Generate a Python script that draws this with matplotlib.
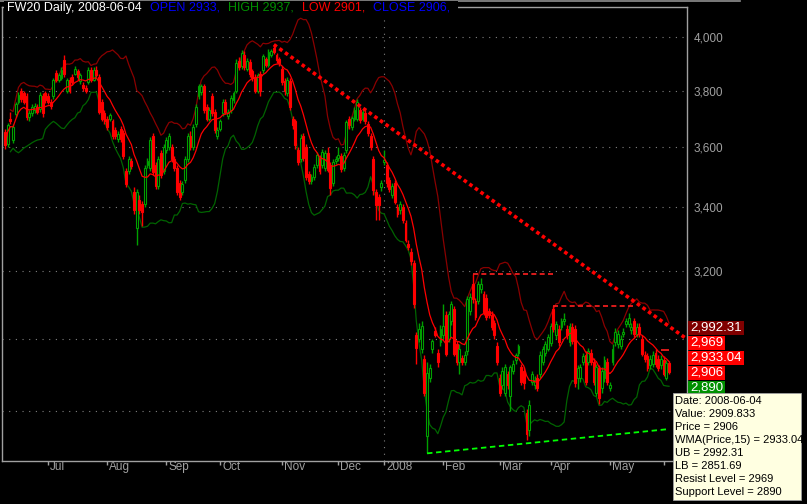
import numpy as np
import pandas as pd
import matplotlib
matplotlib.use('Agg')
import matplotlib.pyplot as plt
from matplotlib.patches import Rectangle
from matplotlib.lines import Line2D
from matplotlib.ticker import NullLocator
from matplotlib.transforms import ScaledTranslation

plt.rcParams['font.family'] = ['Liberation Sans', 'DejaVu Sans']

# ---- data ----
symbol = 'FW20'
last_date = '2008-06-04'
holidays = ['2007-06-07', '2007-08-15', '2007-11-01', '2007-12-24', '2007-12-25',
            '2007-12-26', '2007-12-31', '2008-01-01', '2008-03-21', '2008-03-24',
            '2008-05-01', '2008-05-22']

opens = [
    3652, 3610, 3700, 3625, 3715, 3760, 3800, 3790, 3780, 3705,
    3720, 3730, 3740, 3735, 3780, 3790, 3780, 3760, 3780, 3865,
    3840, 3845, 3912, 3800, 3838, 3850, 3862, 3870, 3835, 3820,
    3810, 3830, 3875, 3840, 3875, 3850, 3760, 3720, 3700, 3700,
    3690, 3660, 3630, 3665, 3650, 3520, 3520, 3555, 3450, 3335,
    3425, 3410, 3410, 3540, 3530, 3640, 3540, 3470, 3580, 3520,
    3590, 3600, 3600, 3560, 3530, 3480, 3450, 3490, 3560, 3640,
    3600, 3680, 3780, 3795, 3815, 3740, 3700, 3780, 3725, 3640,
    3665, 3720, 3760, 3710, 3730, 3765, 3800, 3910, 3890, 3930,
    3880, 3905, 3870, 3850, 3800, 3860, 3875, 3915, 3895, 3930,
    3958, 3930, 3915, 3880, 3835, 3790, 3835, 3700, 3690, 3590,
    3560, 3640, 3600, 3510, 3485, 3500, 3540, 3565, 3540, 3530,
    3580, 3540, 3480, 3555, 3565, 3570, 3530, 3590, 3700, 3670,
    3700, 3700, 3730, 3700, 3720, 3680, 3640, 3560, 3450, 3435,
    3465, 3550, 3540, 3490, 3440, 3480, 3400, 3390, 3400, 3350,
    3285, 3260, 3225, 3010, 3000, 2972, 2944, 2735, 2890, 2972,
    3022, 2960, 2990, 3010, 3070, 3000, 3050, 3087, 2986, 2935,
    2945, 2935, 2965, 3080, 3160, 3110, 3110, 3145, 3130, 3120,
    3080, 3070, 3045, 2980, 2890, 2870, 2850, 2900, 2840, 2910,
    2940, 2960, 2920, 2910, 2795, 2750, 2880, 2870, 2890, 2900,
    2935, 2960, 2972, 2988, 3087, 3012, 3029, 3035, 3050, 3029,
    2990, 3035, 3029, 2890, 2890, 2935, 2955, 2935, 2960, 2935,
    2850, 2917, 2862, 2890, 2935, 2862, 2935, 2990, 2986, 2980,
    3015, 3043, 3043, 3025, 3050, 3015, 3035, 3000, 2955, 2950,
    2925, 2930, 2960, 2944, 2925, 2940, 2890, 2933]

highs = [
    3665, 3685, 3725, 3680, 3760, 3795, 3810, 3800, 3790, 3730,
    3750, 3755, 3750, 3795, 3790, 3800, 3790, 3770, 3845, 3875,
    3865, 3885, 3930, 3845, 3850, 3860, 3890, 3880, 3865, 3830,
    3820, 3885, 3885, 3885, 3890, 3860, 3770, 3730, 3710, 3720,
    3700, 3670, 3655, 3675, 3660, 3530, 3570, 3565, 3465, 3460,
    3440, 3420, 3540, 3565, 3635, 3650, 3550, 3570, 3590, 3610,
    3635, 3650, 3610, 3570, 3540, 3490, 3485, 3570, 3650, 3655,
    3680, 3750, 3825, 3825, 3825, 3750, 3740, 3790, 3735, 3670,
    3700, 3770, 3770, 3735, 3785, 3800, 3915, 3925, 3950, 3945,
    3920, 3915, 3880, 3860, 3865, 3870, 3935, 3925, 3955, 3955,
    3970, 3940, 3925, 3890, 3845, 3850, 3845, 3710, 3700, 3600,
    3645, 3650, 3610, 3520, 3510, 3545, 3585, 3575, 3595, 3590,
    3600, 3550, 3560, 3570, 3600, 3580, 3585, 3695, 3710, 3710,
    3740, 3770, 3740, 3735, 3730, 3690, 3650, 3570, 3460, 3445,
    3490, 3590, 3550, 3500, 3480, 3490, 3410, 3420, 3410, 3360,
    3295, 3270, 3235, 3020, 3045, 3050, 2955, 2935, 2930, 3000,
    3035, 2970, 3040, 3100, 3080, 3080, 3110, 3095, 2995, 2985,
    2955, 2965, 3125, 3135, 3190, 3120, 3170, 3180, 3140, 3130,
    3090, 3080, 3055, 2990, 2900, 2920, 2930, 2910, 2925, 2940,
    2960, 2985, 2930, 2920, 2805, 2830, 2910, 2895, 2900, 2965,
    2980, 2995, 3015, 3045, 3095, 3050, 3040, 3060, 3075, 3040,
    3045, 3045, 3040, 2925, 2930, 2960, 2965, 2975, 2970, 2945,
    2930, 2925, 2920, 2950, 2945, 2880, 2985, 3030, 3025, 3010,
    3030, 3060, 3075, 3045, 3060, 3045, 3045, 3010, 2965, 2960,
    2955, 2965, 2970, 2955, 2955, 2950, 2940, 2937]

lows = [
    3595, 3600, 3680, 3615, 3705, 3750, 3760, 3750, 3695, 3690,
    3710, 3720, 3715, 3725, 3705, 3755, 3750, 3735, 3770, 3830,
    3830, 3840, 3850, 3790, 3790, 3820, 3855, 3840, 3825, 3800,
    3790, 3825, 3830, 3835, 3850, 3715, 3690, 3680, 3660, 3690,
    3630, 3630, 3620, 3620, 3560, 3465, 3510, 3525, 3380, 3280,
    3380, 3340, 3400, 3530, 3520, 3505, 3460, 3460, 3495, 3510,
    3580, 3590, 3550, 3520, 3440, 3425, 3440, 3480, 3550, 3590,
    3590, 3670, 3770, 3785, 3720, 3690, 3690, 3710, 3650, 3630,
    3655, 3710, 3715, 3700, 3720, 3755, 3790, 3875, 3880, 3875,
    3870, 3850, 3835, 3790, 3790, 3780, 3865, 3885, 3885, 3925,
    3935, 3900, 3890, 3820, 3785, 3780, 3730, 3665, 3595, 3540,
    3550, 3555, 3490, 3475, 3475, 3490, 3530, 3510, 3530, 3520,
    3515, 3440, 3470, 3545, 3555, 3515, 3520, 3580, 3665, 3660,
    3690, 3690, 3685, 3690, 3680, 3640, 3590, 3440, 3360, 3360,
    3455, 3540, 3465, 3450, 3430, 3410, 3370, 3380, 3350, 3290,
    3265, 3220, 3090, 2930, 2990, 2960, 2840, 2690, 2880, 2960,
    3005, 2920, 2980, 3000, 2950, 2990, 3040, 2950, 2925, 2900,
    2925, 2925, 2955, 3070, 3105, 3055, 3100, 3135, 3070, 3055,
    3060, 3025, 3000, 2925, 2840, 2860, 2840, 2860, 2800, 2900,
    2930, 2950, 2870, 2860, 2725, 2735, 2870, 2860, 2855, 2890,
    2925, 2950, 2965, 2980, 3020, 3000, 2980, 3025, 3040, 3000,
    2980, 2985, 2865, 2860, 2880, 2925, 2870, 2925, 2925, 2870,
    2840, 2820, 2850, 2880, 2870, 2855, 2925, 2980, 2975, 2970,
    3005, 3035, 3035, 3015, 3005, 3005, 3005, 2950, 2935, 2910,
    2915, 2920, 2920, 2910, 2915, 2895, 2885, 2901]

closes = [
    3607, 3677, 3690, 3670, 3750, 3785, 3770, 3760, 3705, 3720,
    3740, 3745, 3725, 3785, 3720, 3765, 3760, 3745, 3838, 3838,
    3856, 3875, 3860, 3838, 3800, 3830, 3878, 3850, 3856, 3810,
    3800, 3875, 3838, 3875, 3856, 3725, 3700, 3690, 3670, 3712,
    3640, 3640, 3645, 3630, 3570, 3475, 3560, 3535, 3390, 3450,
    3390, 3385, 3530, 3555, 3625, 3515, 3470, 3560, 3505, 3600,
    3625, 3640, 3560, 3530, 3450, 3435, 3475, 3560, 3640, 3600,
    3670, 3740, 3815, 3815, 3730, 3700, 3730, 3720, 3660, 3660,
    3690, 3760, 3725, 3725, 3775, 3790, 3900, 3885, 3940, 3885,
    3910, 3860, 3845, 3800, 3856, 3797, 3926, 3894, 3943, 3945,
    3943, 3912, 3900, 3830, 3797, 3840, 3740, 3677, 3607, 3550,
    3632, 3563, 3500, 3485, 3500, 3533, 3575, 3520, 3583, 3580,
    3523, 3463, 3550, 3560, 3575, 3526, 3573, 3687, 3677, 3701,
    3730, 3759, 3694, 3725, 3690, 3648, 3600, 3457, 3408, 3408,
    3480, 3557, 3480, 3460, 3470, 3418, 3380, 3410, 3360, 3297,
    3275, 3230, 3100, 2975, 3029, 3037, 2849, 2905, 2917, 2995,
    3012, 2935, 3029, 3037, 2958, 3072, 3101, 2958, 2935, 2972,
    2935, 2955, 3116, 3122, 3116, 3064, 3160, 3160, 3078, 3064,
    3070, 3035, 3010, 2935, 2849, 2910, 2920, 2870, 2920, 2930,
    2955, 2980, 2880, 2876, 2740, 2817, 2900, 2885, 2862, 2955,
    2972, 2986, 3005, 3037, 3029, 3043, 2990, 3050, 3058, 3010,
    3037, 2995, 2876, 2917, 2920, 2950, 2880, 2965, 2935, 2880,
    2920, 2836, 2910, 2940, 2880, 2870, 2972, 3020, 3015, 3000,
    3020, 3050, 3060, 3035, 3015, 3035, 3015, 2958, 2944, 2917,
    2944, 2955, 2930, 2917, 2944, 2900, 2933, 2906]

# read-outs shown in the tooltip and the price boxes
value_last = 2909.833
wma_last = 2933.04
ub_last = 2992.31
lb_last = 2851.69
resist_level = 2969
support_level = 2890
trend_end_value = 3036      # falling resistance line at the last bar
support_end_value = 2753    # rising support line at the last bar
resist_dates = ['2008-02-18', '2008-04-02']
resist_len = 30
yticks = [2800, 3000, 3200, 3400, 3600, 3800, 4000]
hidden_yticks = [2800, 3000]   # labels covered by the boxes / tooltip

# ---- prep ----
o = np.array(opens, float)
h = np.array(highs, float)
l = np.array(lows, float)
c = np.array(closes, float)
n = len(c)
x = np.arange(n)

bdays = pd.bdate_range('2007-05-01', last_date)
bdays = bdays[~bdays.isin(pd.to_datetime(holidays))]
dates = bdays[-n:]


def wma(v, period):
    out = np.empty(len(v))
    for i in range(len(v)):
        w = v[max(0, i - period + 1):i + 1]
        k = np.arange(1, len(w) + 1)
        out[i] = (w * k).sum() / k.sum()
    return out


wma15 = wma(c, 15)
s = pd.Series(c)
mid = s.rolling(15, min_periods=3).mean()
sd = s.rolling(15, min_periods=3).std(ddof=0)
ub = mid + 2 * sd
lb = mid - 2 * sd

# ---- figure ----
W, H = 807, 504
fig = plt.figure(figsize=(W / 100, H / 100), dpi=100, facecolor='black')
L, R, T, B = 2, 687, 7, 461
ax = fig.add_axes([L / W, 1 - B / H, (R - L) / W, (B - T) / H])
ax.set_facecolor('black')
ax.set_yscale('log')

green, red = '#00a000', '#ff0000'
up = c >= o
col = np.where(up, green, red)

ax.plot(x, ub, color='#8a0000', lw=0.9, zorder=2)
ax.plot(x, lb, color='#006400', lw=0.9, zorder=2)
ax.vlines(x, l, h, colors=col, lw=1, zorder=3)
ax.bar(x, np.abs(c - o), bottom=np.minimum(o, c), width=0.7,
       color=np.where(up, 'black', red), edgecolor=col, linewidth=0.8, zorder=4)
ax.plot(x, wma15, color='#ff0000', lw=0.9, zorder=5)

step = (669 - 5) / (n - 1)
xlim = (-(5 - L) / step, (n - 1) + (R - 669) / step)
ax.set_xlim(*xlim)
ax.set_ylim(2670.5, 4114.8)

# falling resistance line from the October top
i0 = int(np.argmax(h))
slope = (np.log(trend_end_value) - np.log(h[i0])) / (n - 1 - i0)
xt = np.array([i0, xlim[1]])
ax.plot(xt, np.exp(np.log(h[i0]) + slope * (xt - i0)), color='#ff0000', lw=2.6,
        linestyle=(0, (1, 0.9)), dash_capstyle='butt', zorder=6)

# rising support line from the January low
j0 = int(np.argmin(l))
ax.plot([j0, n - 1], [l[j0], support_end_value], color='#00ff00', lw=1.3,
        linestyle=(0, (3, 2)), zorder=6)

# horizontal resistance levels
for d in resist_dates:
    k = dates.get_loc(pd.Timestamp(d))
    ax.hlines(h[k], k, k + resist_len, colors='#ff2020', lw=1.2,
              linestyles=(0, (3, 2)), zorder=6)
ax.hlines(resist_level, n - 4, n - 1, colors='#ff2020', lw=1.2, zorder=6)

# axes styling
for sp in ax.spines.values():
    sp.set_color('#a0a0a0')
    sp.set_linewidth(1)

ax.set_yticks(yticks)
ax.set_yticklabels(['' if v in hidden_yticks else f'{v:,}' for v in yticks])
ax.yaxis.set_minor_locator(NullLocator())
ax.yaxis.tick_right()
ax.tick_params(axis='y', which='both', length=0, pad=5, labelcolor='#a0a0a0',
               labelsize=8.5)
ax.grid(axis='y', color='#808080', lw=0.8, linestyle=(0, (1, 5)))
ax.set_axisbelow(True)

months = [i for i in range(1, n) if dates[i].month != dates[i - 1].month]
mlabels = [str(dates[i].year) if dates[i].month == 1 else dates[i].strftime('%b')
           for i in months]
mlabels[-1] = ''   # June label sits under the tooltip
ax.set_xticks(months)
ax.set_xticklabels(mlabels, ha='left')
ax.tick_params(axis='x', length=3, width=1, color='#a0a0a0', labelcolor='#a0a0a0',
               labelsize=8.5, pad=-3, direction='out')
shift = ScaledTranslation(2 / 100, 0, fig.dpi_scale_trans)
for lab in ax.get_xticklabels():
    lab.set_transform(lab.get_transform() + shift)

for i in months:
    if dates[i].month == 1:
        ax.axvline(i, color='#808080', lw=0.8, linestyle=(0, (1, 5)), zorder=1)

# ---- header ----
fig.add_artist(Line2D([0, 740 / W], [1 - 0.6 / H] * 2, transform=fig.transFigure,
                      color='#909090', lw=1.2))
renderer = fig.canvas.get_renderer()
parts = [(f'{symbol} Daily, {last_date}', 'white'),
         (f'OPEN {o[-1]:.0f},', '#0000ff'),
         (f'HIGH {h[-1]:.0f},', '#009000'),
         (f'LOW {l[-1]:.0f},', '#ff0000'),
         (f'CLOSE {c[-1]:.0f},', '#0000ff')]
xpos = 7
for txt, colr in parts:
    t = fig.text(xpos / W, 1 - 8 / H, txt, color=colr, fontsize=9, va='center',
                 ha='left', zorder=10)
    bb = t.get_window_extent(renderer)
    xpos = bb.x1 + 8
fig.add_artist(Rectangle((4 / W, 1 - 15 / H), (xpos - 4) / W, 14 / H,
                         transform=fig.transFigure, fc='black', ec='none', zorder=5))

# ---- price boxes on the axis ----
vals = [ub_last, resist_level, wma_last, c[-1], support_level]
box_cols = ['#800000', '#ff0000', '#ff0000', '#ff0000', '#009000']
ys = [ax.transData.transform((0, v))[1] for v in vals]
for _ in range(200):
    for k in range(len(ys) - 1):
        d = ys[k] - ys[k + 1]
        if d < 15:
            m = (15 - d) / 2
            ys[k] += m
            ys[k + 1] -= m
ys = [yy + 3 for yy in ys]
for v, yy, bc in zip(vals, ys, box_cols):
    txt = f'{v:,.2f}' if v != int(v) else f'{int(v):,}'
    t = fig.text(690 / W, yy / H, txt, color='white', fontsize=9.5, va='center',
                 ha='left', zorder=12)
    bb = t.get_window_extent(renderer)
    fig.add_artist(Rectangle((688 / W, (yy - 7) / H), (bb.x1 + 2 - 688) / W, 14 / H,
                             transform=fig.transFigure, fc=bc, ec='none', zorder=11))

# ---- tooltip ----
fig.add_artist(Rectangle((673 / W, 1 - 500 / H), 128 / W, 107 / H,
                         transform=fig.transFigure, fc='#ffffe1', ec='#a0a0a0',
                         lw=0.6, zorder=13))
tip = [f'Date: {last_date}',
       f'Value: {value_last}',
       f'Price = {c[-1]:.0f}',
       f'WMA(Price,15) = {wma_last}',
       f'UB = {ub_last}',
       f'LB = {lb_last}',
       f'Resist Level = {resist_level}',
       f'Support Level = {support_level}']
for k, line in enumerate(tip):
    fig.text(675 / W, 1 - (401 + 13 * k) / H, line, color='black', fontsize=8,
             va='center', ha='left', zorder=14)

fig.savefig('out.png', dpi=100, facecolor='black')
